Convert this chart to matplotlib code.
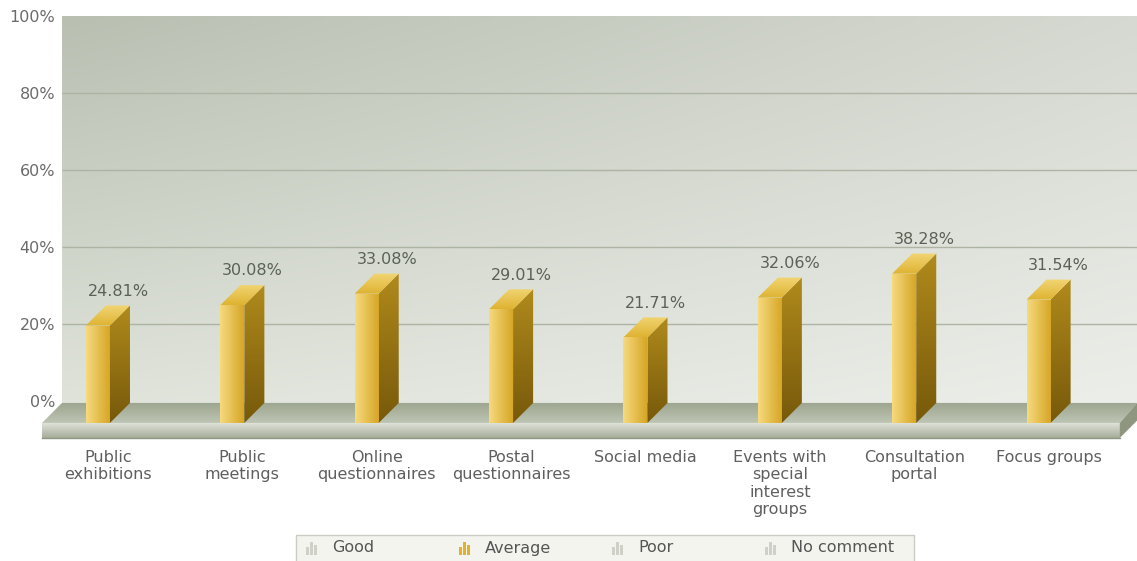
import numpy as np
import matplotlib.pyplot as plt
from matplotlib.patches import Polygon, Rectangle
from matplotlib.colors import to_rgb

categories = ["Public\nexhibitions", "Public\nmeetings", "Online\nquestionnaires",
              "Postal\nquestionnaires", "Social media",
              "Events with\nspecial\ninterest\ngroups",
              "Consultation\nportal", "Focus groups"]
average = [24.81, 30.08, 33.08, 29.01, 21.71, 32.06, 38.28, 31.54]
y_ticks = [0, 20, 40, 60, 80, 100]
legend_labels = ["Good", "Average", "Poor", "No comment"]
legend_active = [False, True, False, False]

W, H = 1137, 561

# fake 3d: front plane is shifted left/down from the back wall
DX, DY = 0.149, 5.2
BAR_W = 0.179
BAR_OFF = 0.327
FLOOR_Y = -0.5


def shade(ax, x0, x1, y0, y1, c_a, c_b, horizontal=False, clip=None, z=1):
    t = np.linspace(0, 1, 64)
    a, b = np.array(to_rgb(c_a)), np.array(to_rgb(c_b))
    g = a + (b - a) * t[:, None]
    img = g[None, :, :] if horizontal else g[:, None, :]
    im = ax.imshow(img, extent=(x0, x1, y0, y1), origin='lower', aspect='auto',
                   interpolation='bilinear', zorder=z)
    if clip is not None:
        poly = Polygon(clip, closed=True, transform=ax.transData, fc='none', ec='none')
        im.set_clip_path(poly)
    return im


fig = plt.figure(figsize=(W / 100, H / 100), dpi=100)
fig.patch.set_facecolor('white')
ax = fig.add_axes([0, 0, 1, 1])
ax.set_facecolor('white')

# back wall, darker at the top left
n = 64
u = np.linspace(0, 1, n)[None, :, None]
v = np.linspace(0, 1, n)[:, None, None]
bl, br = np.array(to_rgb('#dfe3da')), np.array(to_rgb('#eceee9'))
tl, tr = np.array(to_rgb('#b9c0b2')), np.array(to_rgb('#d6d9d1'))
wall = (1 - v) * ((1 - u) * bl + u * br) + v * ((1 - u) * tl + u * tr)
ax.imshow(wall, extent=(0, 8.0, FLOOR_Y, 100), origin='lower', aspect='auto',
          interpolation='bilinear', zorder=0)
ax.hlines(y_ticks[1:-1], 0, 8.0, color='#adb4a3', lw=1, zorder=1)

# floor slab
x_fr = 7.872
y_front = FLOOR_Y - DY
y_base = -9.6
top_face = [(0, FLOOR_Y), (8.0, FLOOR_Y), (x_fr, y_front), (-DX, y_front)]
shade(ax, -DX, 8.0, y_front, FLOOR_Y, '#bec5b4', '#9ca58f', clip=top_face, z=1)
front_face = [(-DX, y_front), (x_fr, y_front), (x_fr, y_base), (-DX, y_base)]
shade(ax, -DX, x_fr, y_base, y_front, '#a5ad9a', '#e2e5dc', clip=front_face, z=1)
ax.plot([-DX, x_fr], [y_base, y_base], color='#8f9885', lw=1, zorder=1)
ax.add_patch(Polygon([(x_fr, y_front), (8.0, FLOOR_Y), (8.0, FLOOR_Y - 4.6), (x_fr, y_base)],
                     closed=True, fc='#8e967f', ec='none', zorder=1))

# bars
for i, val in enumerate(average):
    bx = i + BAR_OFF
    fx = bx - DX
    front = [(fx, y_front), (fx + BAR_W, y_front), (fx + BAR_W, val - DY), (fx, val - DY)]
    shade(ax, fx, fx + BAR_W, y_front, val - DY, '#f6da7e', '#d5a423',
          horizontal=True, clip=front, z=3)
    side = [(fx + BAR_W, y_front), (fx + BAR_W, val - DY), (bx + BAR_W, val), (bx + BAR_W, FLOOR_Y)]
    shade(ax, fx + BAR_W, bx + BAR_W, y_front, val, '#77590a', '#b08a1c', clip=side, z=3)
    top = [(fx, val - DY), (fx + BAR_W, val - DY), (bx + BAR_W, val), (bx, val)]
    shade(ax, fx, bx + BAR_W, val - DY, val, '#deb332', '#f2d573', clip=top, z=3)
    ax.text(bx + BAR_W / 2, val + 3.7, f"{val:.2f}%", ha='center', va='center',
            fontsize=11.5, color='#5b6157', zorder=4)

ax.set_xlim(-62 / 134.4, 8.0)
ax.set_ylim(-(H - 401) / 3.85, 401 / 3.85)

# axis labels sit inside the full-figure axes
for s in ax.spines.values():
    s.set_visible(False)
ax.set_yticks(y_ticks)
ax.set_yticklabels([f"{t}%" for t in y_ticks], fontsize=11.5, color='#6b6b6b')
ax.tick_params(axis='y', length=0, pad=-39.6)
ax.set_xticks([i + BAR_OFF + BAR_W / 2 - DX / 2 for i in range(len(categories))])
ax.set_xticklabels(categories, fontsize=11.5, color='#5f5f5f', linespacing=1.2)
ax.tick_params(axis='x', length=0, pad=-80)

# legend strip along the bottom
lx0, lx1, ly = 296, 914, 535
fig.patches.append(Rectangle((lx0 / W, -0.01), (lx1 - lx0) / W, (H - ly) / H + 0.01,
                             transform=fig.transFigure, fc='#f4f4ef', ec='#c9cdc3', lw=1))
for k, (lab, on) in enumerate(zip(legend_labels, legend_active)):
    ix = 306 + k * 153
    col = '#e3b12a' if on else '#cfd1c9'
    for j, h in enumerate([8, 13, 10]):
        fig.patches.append(Rectangle(((ix + j * 4) / W, (H - 555) / H), 3 / W, h / H,
                                     transform=fig.transFigure, fc=col, ec='none'))
    fig.text((ix + 26) / W, (H - 548) / H, lab, ha='left', va='center',
             fontsize=11.5, color='#555555')

fig.savefig('out.png', dpi=100)
